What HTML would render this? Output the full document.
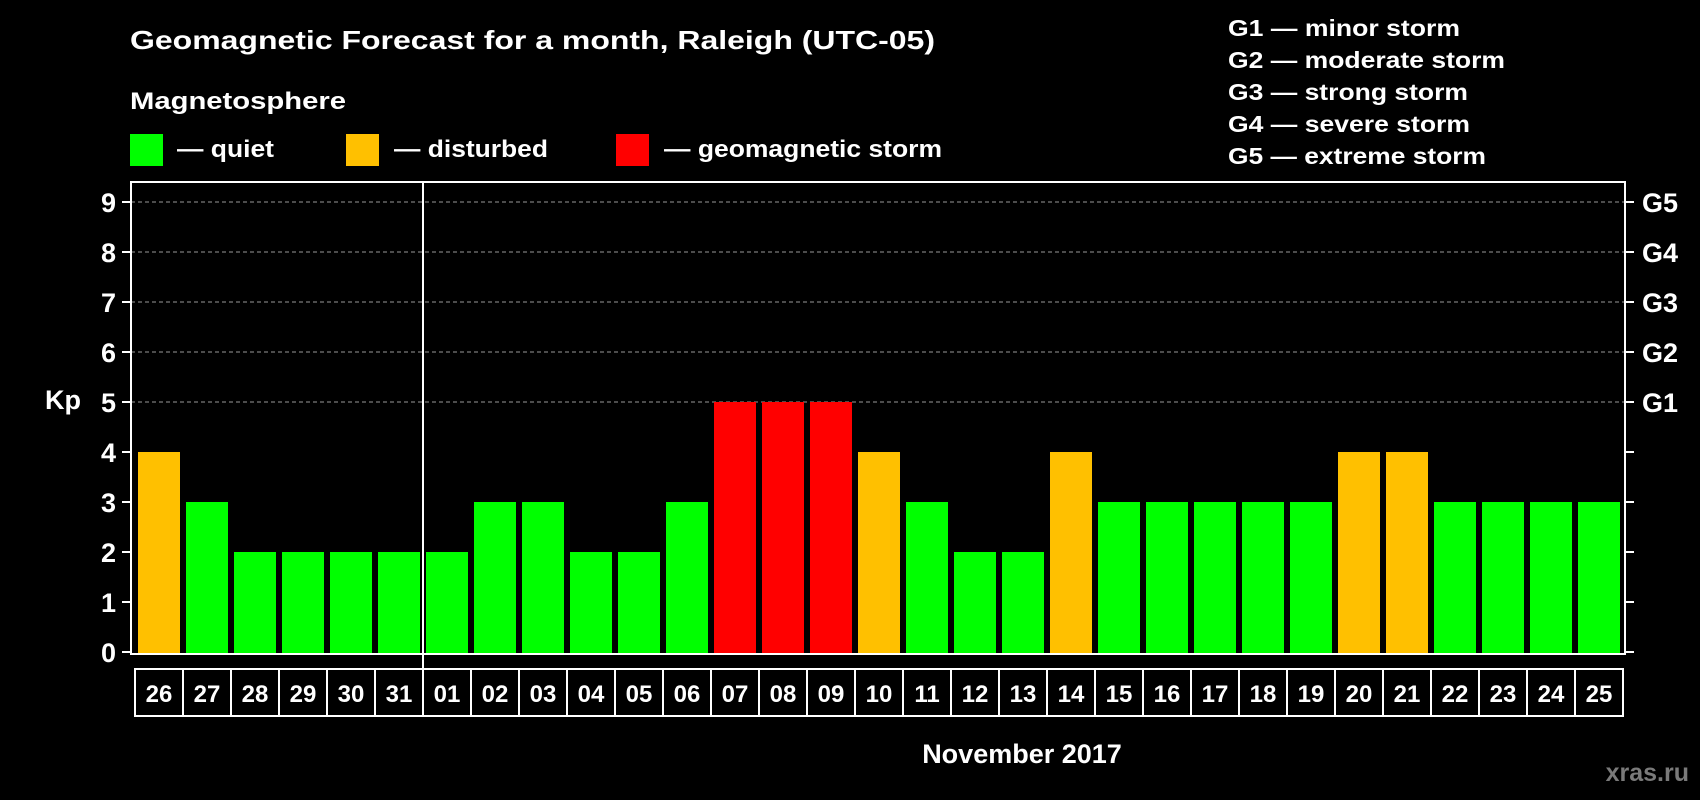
<!DOCTYPE html>
<html><head><meta charset="utf-8"><style>
html,body{margin:0;padding:0;background:#000;}
svg{display:block;font-family:"Liberation Sans",sans-serif;font-weight:bold;}
</style></head><body>
<svg id="chart" width="1700" height="800" viewBox="0 0 1700 800" xmlns="http://www.w3.org/2000/svg">
<rect width="1700" height="800" fill="#000"/>
<text x="130" y="49" fill="#fff" font-size="26" textLength="805" lengthAdjust="spacingAndGlyphs">Geomagnetic Forecast for a month, Raleigh (UTC-05)</text>
<text x="130" y="109" fill="#fff" font-size="24" textLength="216" lengthAdjust="spacingAndGlyphs">Magnetosphere</text>
<g>
<rect x="130" y="134" width="33" height="32" fill="#00ff00"/>
<text x="177" y="157" fill="#fff" font-size="24" textLength="97" lengthAdjust="spacingAndGlyphs">— quiet</text></g>
<g>
<rect x="346" y="134" width="33" height="32" fill="#ffc000"/>
<text x="394" y="157" fill="#fff" font-size="24" textLength="154" lengthAdjust="spacingAndGlyphs">— disturbed</text></g>
<g>
<rect x="616" y="134" width="33" height="32" fill="#ff0000"/>
<text x="664" y="157" fill="#fff" font-size="24" textLength="278" lengthAdjust="spacingAndGlyphs">— geomagnetic storm</text></g>
<g fill="#fff" font-size="23">
<text x="1228" y="36" textLength="232" lengthAdjust="spacingAndGlyphs">G1 — minor storm</text>
<text x="1228" y="68" textLength="277" lengthAdjust="spacingAndGlyphs">G2 — moderate storm</text>
<text x="1228" y="100" textLength="240" lengthAdjust="spacingAndGlyphs">G3 — strong storm</text>
<text x="1228" y="132" textLength="242" lengthAdjust="spacingAndGlyphs">G4 — severe storm</text>
<text x="1228" y="164" textLength="258" lengthAdjust="spacingAndGlyphs">G5 — extreme storm</text>
</g>
<g id="grid"></g>
<g id="bars"></g>
<g id="axes"></g>
<text x="63" y="409" fill="#fff" font-size="27" text-anchor="middle">Kp</text>
<text x="1022" y="763" fill="#fff" font-size="27" text-anchor="middle">November 2017</text>
<text x="1689" y="781" fill="#7a7a7a" font-size="25" text-anchor="end">xras.ru</text>
</svg>
<script>
const days = ["26","27","28","29","30","31","01","02","03","04","05","06","07","08","09","10","11","12","13","14","15","16","17","18","19","20","21","22","23","24","25"];
const kpValues = [4,3,2,2,2,2,2,3,3,2,2,3,5,5,5,4,3,2,2,4,3,3,3,3,3,4,4,3,3,3,3];
const yTicks = [0,1,2,3,4,5,6,7,8,9];
const gLabels = ["G1","G2","G3","G4","G5"];
const gLevels = [5,6,7,8,9];

const NS = "http://www.w3.org/2000/svg";
const L = 131, R = 1625, T = 182, B = 654;
const slot = 48, x0 = 135;
function yScale(v){ return 652 - v * 50; }
function xScale(i){ return x0 + i * slot; }
function mk(tag, attrs, parent){ const e = document.createElementNS(NS, tag); for (const k in attrs) e.setAttribute(k, attrs[k]); parent.appendChild(e); return e; }
function color(v){ return v >= 5 ? "#ff0000" : (v >= 4 ? "#ffc000" : "#00ff00"); }

const grid = document.getElementById("grid");
const bars = document.getElementById("bars");
const axes = document.getElementById("axes");

gLevels.forEach((lv, i) => {
  const ln = mk("line", {x1: L, x2: R, y1: yScale(lv), y2: yScale(lv), stroke: "#999", "stroke-width": 1, "stroke-dasharray": "4,3"}, grid);
  
  
  const t = mk("text", {x: 1642, y: yScale(lv) + 10, fill: "#fff", "font-size": 27}, axes);
  t.textContent = gLabels[i];
  
  
});

kpValues.forEach((v, i) => {
  const r = mk("rect", {x: xScale(i) + 3, y: yScale(v), width: 42, height: B - yScale(v), fill: color(v)}, bars);
  
  
  const c = mk("rect", {x: xScale(i), y: 669, width: slot, height: 47, fill: "none", stroke: "#fff", "stroke-width": 2}, axes);
  
  
  const t = mk("text", {x: xScale(i) + slot / 2, y: 702, fill: "#fff", "font-size": 24, "text-anchor": "middle"}, axes);
  t.textContent = days[i];
  
  
});

yTicks.forEach(v => {
  const a = mk("line", {x1: 122, x2: L, y1: yScale(v), y2: yScale(v), stroke: "#fff", "stroke-width": 2}, axes);
  
  
  const b = mk("line", {x1: R, x2: 1634, y1: yScale(v), y2: yScale(v), stroke: "#fff", "stroke-width": 2}, axes);
  
  
  const t = mk("text", {x: 116, y: yScale(v) + 10, fill: "#fff", "font-size": 27, "text-anchor": "end"}, axes);
  t.textContent = v;
  
  
});

const frame = mk("rect", {x: L, y: T, width: R - L, height: B - T, fill: "none", stroke: "#fff", "stroke-width": 2}, axes);


const monthIdx = days.indexOf("01");
const div = mk("line", {x1: xScale(monthIdx), x2: xScale(monthIdx), y1: T, y2: 716, stroke: "#fff", "stroke-width": 2}, axes);


</script>
</body></html>
